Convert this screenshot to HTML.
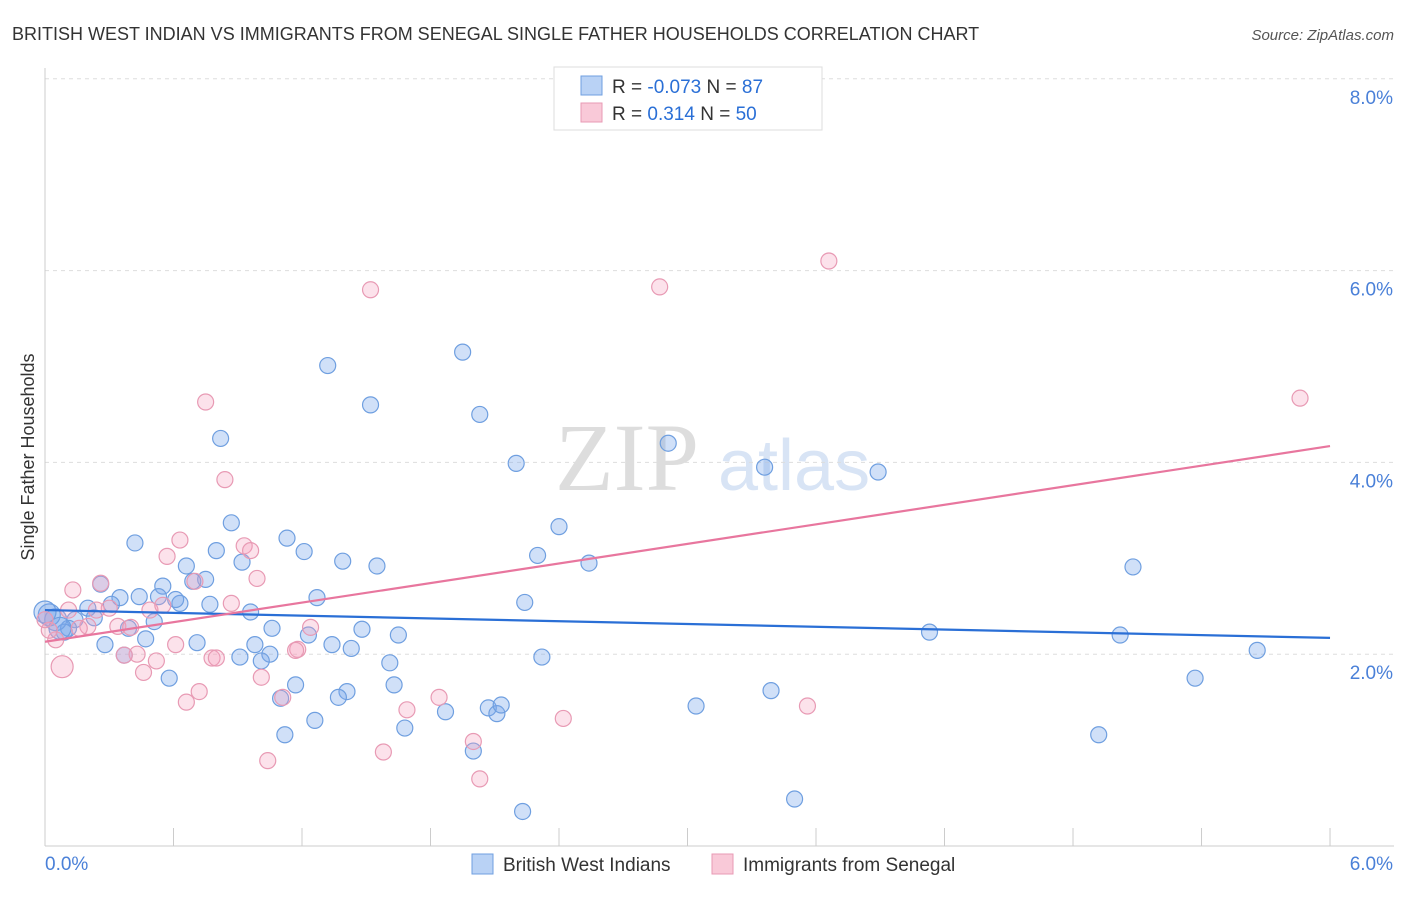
<!DOCTYPE html>
<html><head><meta charset="utf-8"><style>
body{margin:0;background:#fff;font-family:"Liberation Sans",sans-serif}
svg text{font-family:"Liberation Sans",sans-serif}
</style></head><body>
<svg id="chart" width="1406" height="892" xmlns="http://www.w3.org/2000/svg">
<text x="12" y="40" font-size="18" fill="#333">BRITISH WEST INDIAN VS IMMIGRANTS FROM SENEGAL SINGLE FATHER HOUSEHOLDS CORRELATION CHART</text>
<text x="1394" y="40" font-size="15" fill="#555" text-anchor="end" font-style="italic">Source: ZipAtlas.com</text>
<text x="555" y="490" font-size="96" fill="#ddd" font-family="Liberation Serif" style="font-family:'Liberation Serif',serif">ZIP</text>
<text x="718" y="490" font-size="72" fill="#d8e4f5">atlas</text>
<g id="grid"></g>
<g id="axes"></g>
<g id="blue"></g>
<g id="pink"></g>
<g id="trends"></g>
<text transform="translate(34,457) rotate(-90)" font-size="18" fill="#333" text-anchor="middle">Single Father Households</text>
<g>
<rect x="554" y="67" width="268" height="63" fill="#fff" stroke="#ddd"/>
<rect x="581" y="76" width="21" height="19" fill="#b9d2f5" stroke="#6f9fe0"/>
<rect x="581" y="103" width="21" height="19" fill="#f9c9d8" stroke="#e89ab4"/>
<text x="612" y="93" font-size="19" fill="#333">R = <tspan fill="#2a6fd6">-0.073</tspan>   N = <tspan fill="#2a6fd6">87</tspan></text>
<text x="612" y="120" font-size="19" fill="#333">R =  <tspan fill="#2a6fd6"> 0.314</tspan>   N = <tspan fill="#2a6fd6">50</tspan></text>
</g>
<g>
<rect x="472" y="854" width="21" height="20" fill="#b9d2f5" stroke="#6f9fe0"/>
<text x="503" y="871" font-size="19" fill="#333">British West Indians</text>
<rect x="712" y="854" width="21" height="20" fill="#f9c9d8" stroke="#e89ab4"/>
<text x="743" y="871" font-size="19" fill="#333">Immigrants from Senegal</text>
</g>
</svg>
<script>
const blueX=[.42,.82,1.32,1.52,1.95,2.03,2.20,2.40,2.30,2.54,2.91,3.36,3.89,5.08,5.02,4.13,5.66,5.37,4.92,3.39,3.04,3.50,2.23,2.32,2.24,2.00,2.07,2.11,2.13,1.87,1.68,1.63,1.61,1.65,1.55,1.48,1.39,1.43,1.34,1.41,1.37,1.26,1.27,1.21,1.23,1.13,1.17,1.10,1.12,1.05,1.06,1.01,.98,.96,.92,.91,.87,.80,.77,.75,.71,.69,.66,.63,.61,.58,.55,.53,.51,.47,.44,.39,.37,.35,.28,.26,.31,.23,.20,.14,.11,.09,.05,.02,.07,.00];
const blueY=[3.16,4.25,5.01,4.60,5.15,4.50,3.99,3.33,3.03,2.95,4.20,3.95,3.90,2.91,2.20,2.23,2.04,1.75,1.16,1.62,1.46,0.49,0.36,1.97,2.54,0.99,1.44,1.38,1.47,1.40,1.23,1.68,1.91,2.20,2.92,2.26,2.97,2.06,2.10,1.61,1.55,1.31,2.59,3.07,2.20,3.21,1.68,1.54,1.16,2.00,2.27,1.93,2.10,2.44,2.96,1.97,3.37,3.08,2.52,2.78,2.12,2.76,2.92,2.53,2.57,1.75,2.71,2.60,2.34,2.16,2.60,2.27,1.99,2.59,2.10,2.73,2.52,2.38,2.48,2.36,2.27,2.23,2.36,2.41,2.27,2.44];
const pinkX=[3.66,2.87,1.52,5.86,.75,.84,.63,.93,.96,.57,.70,.99,.26,.13,.30,.24,.11,.20,.34,.40,.49,.55,.87,1.24,1.18,1.17,.61,.43,.37,.52,.46,.78,.80,1.01,.72,.66,1.11,1.84,1.69,3.56,2.42,2.00,1.58,2.03,1.04,.08,.05,.02,.16,0];
const pinkY=[6.10,5.83,5.80,4.67,4.63,3.82,3.19,3.13,3.08,3.02,2.76,2.79,2.74,2.67,2.48,2.46,2.46,2.29,2.29,2.28,2.46,2.51,2.53,2.28,2.05,2.04,2.10,2.00,1.99,1.93,1.81,1.96,1.96,1.76,1.61,1.50,1.55,1.55,1.42,1.46,1.33,1.09,0.98,0.70,0.89,1.87,2.15,2.25,2.27,2.36];
const blueTrend=[2.46,2.17];
const pinkTrend=[2.13,4.17];
const yTicks=[2,4,6,8];
const yTickLabels=["2.0%","4.0%","6.0%","8.0%"];
const xTicks=[0,.6,1.2,1.8,2.4,3.0,3.6,4.2,4.8,5.4,6.0];
const NS="http://www.w3.org/2000/svg";
const sx=v=>45+v*214.17, sy=v=>846-v*95.9;
function mk(p,t,a){const e=document.createElementNS(NS,t);for(const k in a)e.setAttribute(k,a[k]);p.appendChild(e);return e;}
const grid=document.getElementById('grid'),axes=document.getElementById('axes');
yTicks.forEach((t,i)=>{
 const l=mk(grid,'line',{x1:45,x2:1394,y1:sy(t),y2:sy(t),stroke:'#ddd','stroke-dasharray':'4,4'});
 
 const tx=mk(axes,'text',{x:1393,y:sy(t)+25,'font-size':19,fill:'#4a80d8','text-anchor':'end'});
 tx.textContent=yTickLabels[i];
 
});
mk(axes,'line',{x1:45,x2:45,y1:68,y2:846,stroke:'#ccc'});
mk(axes,'line',{x1:45,x2:1394,y1:846,y2:846,stroke:'#ccc'});
xTicks.forEach(t=>{const l=mk(axes,'line',{x1:sx(t),x2:sx(t),y1:828,y2:846,stroke:'#ccc'});
 });
let a=mk(axes,'text',{x:45,y:870,'font-size':19,fill:'#4a80d8'});a.textContent='0.0%';

a=mk(axes,'text',{x:1393,y:870,'font-size':19,fill:'#4a80d8','text-anchor':'end'});a.textContent='6.0%';

function dots(g,X,Y,fill,stroke,name){X.forEach((x,i)=>{
 const big=(x<=0.08&&i>=X.length-4&&name==='british-point')||(name==='senegal-point'&&i===45);
 const c=mk(g,'circle',{cx:sx(x),cy:sy(Y[i]),r:big?11:8,fill:fill,stroke:stroke,'stroke-width':1.2});
 });}
dots(document.getElementById('blue'),blueX,blueY,'rgba(120,165,235,0.35)','#6f9fe0','british-point');
dots(document.getElementById('pink'),pinkX,pinkY,'rgba(245,160,190,0.3)','#e89ab4','senegal-point');
const tr=document.getElementById('trends');
let l1=mk(tr,'line',{x1:sx(0),x2:sx(6),y1:sy(blueTrend[0]),y2:sy(blueTrend[1]),stroke:'#2a6fd6','stroke-width':2.2});

let l2=mk(tr,'line',{x1:sx(0),x2:sx(6),y1:sy(pinkTrend[0]),y2:sy(pinkTrend[1]),stroke:'#e8769e','stroke-width':2.2});

</script>
</body></html>
